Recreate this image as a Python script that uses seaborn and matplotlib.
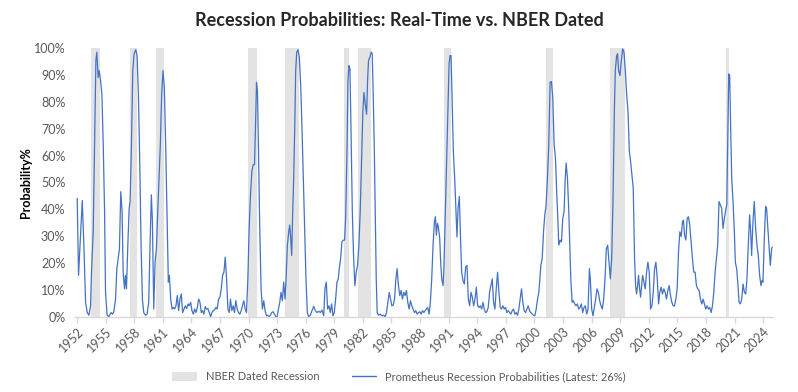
import matplotlib
matplotlib.use("Agg")
import matplotlib.pyplot as plt
import numpy as np
import pandas as pd
import seaborn as sns
from matplotlib.patches import Patch
from matplotlib.lines import Line2D
from matplotlib.ticker import PercentFormatter

# NBER dated recessions (fractional years)
rec_start = [1953.50, 1957.58, 1960.27, 1969.93, 1973.85, 1980.03, 1981.53, 1990.55, 2001.19, 2007.94, 2020.12]
rec_end = [1954.38, 1958.35, 1961.10, 1970.84, 1975.25, 1980.58, 1982.90, 1991.25, 2001.94, 2009.52, 2020.42]

# real-time recession probability (%)
years = [
    1952.03, 1952.17, 1952.56, 1952.73, 1952.91, 1953.08, 1953.26, 1953.43, 1953.53, 1953.71,
    1953.85, 1953.99, 1954.09, 1954.23, 1954.34, 1954.48, 1954.62, 1954.76, 1954.90, 1955.00,
    1955.17, 1955.35, 1955.59, 1955.73, 1955.87, 1956.05, 1956.19, 1956.33, 1956.46, 1956.60,
    1956.74, 1956.85, 1956.99, 1957.09, 1957.20, 1957.34, 1957.48, 1957.58, 1957.72, 1957.86,
    1958.00, 1958.17, 1958.31, 1958.45, 1958.59, 1958.73, 1958.87, 1959.01, 1959.19, 1959.36,
    1959.53, 1959.67, 1959.81, 1959.92, 1960.06, 1960.20, 1960.34, 1960.48, 1960.62, 1960.75,
    1960.89, 1961.03, 1961.17, 1961.31, 1961.45, 1961.59, 1961.70, 1961.84, 1961.98, 1962.12,
    1962.25, 1962.39, 1962.53, 1962.67, 1962.81, 1962.95, 1963.09, 1963.23, 1963.37, 1963.51,
    1963.65, 1963.79, 1963.93, 1964.07, 1964.21, 1964.35, 1964.49, 1964.63, 1964.77, 1964.91,
    1965.05, 1965.18, 1965.32, 1965.46, 1965.60, 1965.74, 1965.88, 1966.02, 1966.16, 1966.30,
    1966.44, 1966.58, 1966.72, 1966.86, 1967.00, 1967.14, 1967.28, 1967.42, 1967.56, 1967.70,
    1967.84, 1967.98, 1968.11, 1968.25, 1968.39, 1968.53, 1968.67, 1968.81, 1968.95, 1969.09,
    1969.23, 1969.37, 1969.51, 1969.65, 1969.79, 1969.93, 1970.07, 1970.21, 1970.35, 1970.49,
    1970.63, 1970.73, 1970.84, 1970.94, 1971.04, 1971.18, 1971.32, 1971.46, 1971.60, 1971.74,
    1971.88, 1972.02, 1972.16, 1972.30, 1972.44, 1972.58, 1972.72, 1972.86, 1973.00, 1973.14,
    1973.28, 1973.41, 1973.55, 1973.69, 1973.83, 1973.94, 1974.08, 1974.22, 1974.32, 1974.43,
    1974.53, 1974.64, 1974.74, 1974.85, 1974.95, 1975.06, 1975.20, 1975.33, 1975.47, 1975.61,
    1975.75, 1975.89, 1976.03, 1976.17, 1976.31, 1976.49, 1976.66, 1976.84, 1977.01, 1977.19,
    1977.36, 1977.54, 1977.71, 1977.89, 1978.02, 1978.16, 1978.30, 1978.44, 1978.58, 1978.72,
    1978.86, 1979.00, 1979.14, 1979.28, 1979.42, 1979.52, 1979.66, 1979.80, 1979.94, 1980.08,
    1980.19, 1980.33, 1980.43, 1980.54, 1980.64, 1980.75, 1980.89, 1981.02, 1981.16, 1981.30,
    1981.44, 1981.58, 1981.72, 1981.86, 1982.00, 1982.11, 1982.25, 1982.39, 1982.49, 1982.59,
    1982.73, 1982.87, 1982.98, 1983.08, 1983.19, 1983.29, 1983.40, 1983.50, 1983.64, 1983.82,
    1983.99, 1984.16, 1984.34, 1984.48, 1984.62, 1984.76, 1984.90, 1985.04, 1985.18, 1985.32,
    1985.46, 1985.59, 1985.73, 1985.87, 1986.01, 1986.15, 1986.29, 1986.43, 1986.57, 1986.71,
    1986.85, 1986.99, 1987.13, 1987.27, 1987.41, 1987.55, 1987.69, 1987.83, 1987.97, 1988.11,
    1988.25, 1988.39, 1988.52, 1988.66, 1988.80, 1988.94, 1989.08, 1989.22, 1989.36, 1989.50,
    1989.61, 1989.71, 1989.82, 1989.92, 1990.06, 1990.16, 1990.27, 1990.41, 1990.51, 1990.65,
    1990.79, 1990.93, 1991.04, 1991.14, 1991.25, 1991.35, 1991.49, 1991.63, 1991.77, 1991.87,
    1991.98, 1992.12, 1992.22, 1992.36, 1992.50, 1992.64, 1992.78, 1992.92, 1993.06, 1993.20,
    1993.34, 1993.48, 1993.62, 1993.76, 1993.90, 1994.04, 1994.18, 1994.32, 1994.46, 1994.60,
    1994.73, 1994.87, 1995.01, 1995.15, 1995.29, 1995.43, 1995.57, 1995.71, 1995.85, 1995.99,
    1996.13, 1996.27, 1996.41, 1996.55, 1996.69, 1996.83, 1996.97, 1997.11, 1997.25, 1997.39,
    1997.53, 1997.66, 1997.80, 1997.94, 1998.08, 1998.22, 1998.36, 1998.50, 1998.64, 1998.78,
    1998.92, 1999.06, 1999.20, 1999.34, 1999.48, 1999.62, 1999.76, 1999.90, 2000.04, 2000.18,
    2000.32, 2000.46, 2000.67, 2000.81, 2000.95, 2001.08, 2001.22, 2001.36, 2001.50, 2001.64,
    2001.78, 2001.92, 2002.06, 2002.20, 2002.34, 2002.45, 2002.55, 2002.69, 2002.83, 2002.97,
    2003.11, 2003.21, 2003.32, 2003.46, 2003.60, 2003.70, 2003.81, 2003.95, 2004.08, 2004.22,
    2004.36, 2004.50, 2004.64, 2004.78, 2004.92, 2005.06, 2005.20, 2005.34, 2005.48, 2005.62,
    2005.76, 2005.86, 2006.00, 2006.14, 2006.28, 2006.42, 2006.56, 2006.70, 2006.84, 2006.98,
    2007.12, 2007.26, 2007.40, 2007.54, 2007.68, 2007.82, 2007.96, 2008.10, 2008.24, 2008.38,
    2008.48, 2008.62, 2008.72, 2008.83, 2008.97, 2009.11, 2009.25, 2009.39, 2009.53, 2009.67,
    2009.81, 2009.95, 2010.08, 2010.22, 2010.36, 2010.43, 2010.50, 2010.61, 2010.71, 2010.82,
    2010.92, 2011.03, 2011.13, 2011.24, 2011.34, 2011.48, 2011.62, 2011.76, 2011.90, 2012.04,
    2012.18, 2012.32, 2012.46, 2012.60, 2012.74, 2012.88, 2013.02, 2013.15, 2013.29, 2013.43,
    2013.57, 2013.71, 2013.85, 2013.99, 2014.13, 2014.27, 2014.41, 2014.55, 2014.69, 2014.83,
    2014.97, 2015.11, 2015.25, 2015.39, 2015.53, 2015.63, 2015.74, 2015.88, 2016.02, 2016.15,
    2016.29, 2016.43, 2016.57, 2016.71, 2016.85, 2016.99, 2017.13, 2017.27, 2017.41, 2017.55,
    2017.69, 2017.83, 2017.97, 2018.11, 2018.25, 2018.39, 2018.53, 2018.67, 2018.81, 2018.95,
    2019.09, 2019.22, 2019.36, 2019.50, 2019.64, 2019.78, 2019.92, 2020.06, 2020.17, 2020.27,
    2020.38, 2020.48, 2020.58, 2020.69, 2020.83, 2020.97, 2021.07, 2021.21, 2021.35, 2021.46,
    2021.60, 2021.74, 2021.88, 2022.02, 2022.16, 2022.29, 2022.43, 2022.57, 2022.68, 2022.78,
    2022.92, 2023.06, 2023.20, 2023.34, 2023.48, 2023.62, 2023.76, 2023.87, 2023.97, 2024.11,
    2024.25, 2024.35, 2024.46, 2024.60, 2024.74, 2024.88, 2024.95,
]
prob = [
    44.1, 15.5, 43.3, 26.7, 5.5, 1.7, 0.7, 4.2, 16.7, 31.7,
    64.1, 95.3, 98.4, 89.0, 91.5, 87.8, 82.8, 64.1, 39.2, 9.2,
    0.7, 0.2, 1.7, 1.1, 2.0, 6.7, 18.0, 21.7, 25.4, 46.6,
    39.2, 16.7, 10.5, 15.5, 10.5, 26.7, 40.4, 42.9, 64.1, 91.5,
    97.8, 99.3, 97.1, 82.8, 57.9, 26.7, 6.7, 1.7, 0.7, 1.1,
    5.5, 26.7, 45.4, 35.4, 3.0, 20.4, 25.4, 39.2, 51.6, 64.1,
    82.8, 91.5, 85.3, 64.1, 39.2, 13.0, 15.5, 6.7, 3.0, 3.6,
    3.0, 4.2, 8.0, 2.4, 6.7, 8.6, 1.7, 3.0, 4.2, 3.2,
    4.9, 4.2, 5.5, 2.4, 1.1, 3.0, 1.7, 3.6, 6.7, 5.5,
    1.7, 2.4, 1.1, 3.9, 3.0, 3.2, 1.7, 0.2, 1.7, 2.4,
    2.7, 3.6, 3.0, 6.7, 7.4, 10.5, 15.5, 16.7, 22.3, 14.2,
    3.0, 1.7, 6.7, 2.4, 4.2, 1.7, 6.1, 3.0, 1.7, 1.1,
    2.4, 4.2, 6.1, 3.0, 1.7, 14.2, 32.9, 45.4, 54.1, 56.6,
    56.6, 70.3, 87.2, 84.0, 64.1, 32.9, 10.5, 3.0, 6.1, 2.4,
    0.5, 0.7, 0.2, 0.7, 1.7, 2.0, 1.1, 0.2, 0.2, 3.0,
    5.5, 9.2, 6.1, 13.0, 6.7, 14.2, 26.7, 31.7, 34.2, 29.2,
    22.9, 39.2, 51.6, 70.3, 91.5, 98.4, 99.3, 96.5, 86.5, 70.3,
    51.6, 32.9, 14.2, 1.7, 0.2, 0.7, 2.4, 4.0, 2.4, 1.7,
    2.2, 1.7, 2.6, 0.5, 10.5, 13.0, 3.0, 4.2, 1.7, 4.9,
    0.5, 1.7, 6.7, 13.0, 14.2, 18.0, 21.7, 27.9, 28.6, 28.6,
    36.7, 61.6, 87.8, 93.4, 92.1, 70.3, 39.2, 22.9, 11.7, 16.7,
    19.2, 26.7, 39.2, 57.9, 76.6, 83.4, 79.1, 75.3, 87.8, 95.3,
    96.5, 98.4, 97.8, 82.8, 64.1, 39.2, 14.2, 1.7, 0.7, 1.1,
    0.5, 0.7, 0.2, 1.7, 5.5, 9.2, 6.7, 4.2, 4.5, 6.7,
    14.2, 18.0, 11.7, 8.0, 9.9, 6.7, 9.2, 8.0, 9.9, 5.5,
    3.0, 6.1, 4.2, 3.0, 1.7, 2.4, 1.1, 1.7, 2.0, 1.1,
    2.4, 1.7, 2.4, 3.0, 3.6, 1.1, 5.5, 14.2, 26.7, 35.4,
    37.3, 30.4, 34.8, 33.5, 29.2, 20.4, 14.2, 11.7, 19.2, 39.2,
    57.9, 79.1, 94.0, 97.1, 97.1, 82.8, 61.6, 51.6, 39.2, 29.8,
    40.4, 44.8, 31.7, 16.7, 13.6, 12.3, 18.6, 19.2, 6.7, 4.2,
    9.2, 7.4, 4.2, 6.7, 11.1, 4.2, 3.6, 4.2, 3.0, 5.5,
    3.0, 1.7, 2.0, 3.6, 9.2, 11.7, 14.2, 5.5, 3.0, 10.5,
    16.7, 9.2, 3.6, 3.0, 4.2, 3.0, 3.6, 1.7, 2.4, 1.7,
    1.1, 2.4, 3.0, 1.1, 1.7, 0.7, 3.0, 6.7, 10.5, 5.5,
    2.4, 1.7, 3.0, 4.2, 2.4, 1.7, 1.1, 0.7, 0.5, 3.0,
    6.7, 9.2, 19.2, 21.7, 31.7, 37.9, 41.6, 51.6, 64.1, 87.2,
    87.5, 81.5, 64.1, 59.1, 45.4, 36.7, 26.7, 28.6, 27.9, 36.7,
    39.2, 50.4, 57.2, 51.6, 39.2, 26.7, 14.2, 5.5, 6.1, 4.9,
    4.2, 4.9, 3.0, 3.6, 4.9, 1.7, 3.6, 4.2, 1.1, 3.0,
    18.0, 14.2, 3.0, 0.5, 3.6, 6.7, 10.5, 9.2, 6.1, 4.2,
    3.0, 6.7, 14.2, 25.4, 26.7, 20.4, 14.2, 21.7, 44.1, 76.6,
    91.5, 97.1, 97.8, 91.5, 89.7, 95.3, 99.6, 98.4, 91.5, 82.8,
    76.6, 61.6, 57.9, 52.9, 47.9, 35.4, 21.7, 11.7, 8.6, 11.7,
    15.5, 10.5, 7.4, 11.7, 15.5, 13.0, 10.5, 16.7, 20.4, 16.7,
    3.0, 4.2, 9.2, 18.0, 20.4, 14.2, 4.9, 9.2, 11.1, 8.6,
    10.5, 9.2, 6.7, 9.9, 11.7, 8.0, 5.5, 4.2, 4.2, 6.7,
    10.5, 24.2, 31.7, 29.9, 35.4, 36.0, 30.5, 28.6, 36.7, 37.3,
    34.2, 27.9, 21.7, 16.7, 16.7, 11.7, 10.5, 9.9, 6.7, 4.9,
    6.7, 4.9, 3.0, 4.2, 3.0, 3.6, 1.7, 4.2, 9.2, 16.7,
    21.7, 26.7, 42.9, 41.6, 40.4, 32.9, 36.7, 39.8, 41.6, 64.1,
    90.3, 89.7, 70.3, 51.6, 42.9, 31.7, 20.4, 18.0, 11.7, 5.5,
    4.9, 6.7, 12.3, 9.2, 8.6, 14.2, 26.7, 38.0, 31.7, 22.9,
    35.4, 42.9, 32.9, 26.7, 22.9, 15.5, 11.7, 13.6, 13.0, 29.2,
    41.1, 40.4, 34.2, 26.7, 19.2, 25.4, 26.0,
]

tick_years = list(range(1952, 2025, 3))

df = pd.DataFrame({"year": years, "prob": prob})

sns.set_theme(style="white")
plt.rcParams['font.family'] = ['Lato', 'DejaVu Sans']

fig = plt.figure(figsize=(7.98, 3.92), dpi=100)
ax = fig.add_axes([0.094, 0.191, 0.875, 0.687])

for s, e in zip(rec_start, rec_end):
    ax.axvspan(s, e, ymin=0, ymax=1, color='#e3e3e3', lw=0, zorder=1)

sns.lineplot(data=df, x="year", y="prob", ax=ax, color='#4472C4', linewidth=0.9, zorder=3)

ax.set_xlim(1951.8, 2025.05)
ax.set_ylim(0, 100)
ax.set_yticks(range(0, 101, 10))
ax.yaxis.set_major_formatter(PercentFormatter(decimals=0))
ax.set_xticks(tick_years)
ax.set_xticklabels([str(y) for y in tick_years], rotation=45, ha='right', rotation_mode='anchor')

for sp in ['left', 'right', 'top']:
    ax.spines[sp].set_visible(False)
ax.spines['bottom'].set_color('#d9d9d9')
ax.spines['bottom'].set_linewidth(1.0)

ax.tick_params(axis='x', colors='#595959', labelsize=9, length=4, width=1, color='#d9d9d9', direction='out', pad=2)
ax.tick_params(axis='y', colors='#595959', labelsize=9, length=0, pad=7)
ax.xaxis.set_ticks_position('bottom')

ax.set_xlabel("")
ax.set_ylabel("Probability%", fontsize=9, fontweight='bold', color='black', labelpad=1)

fig.suptitle("Recession Probabilities: Real-Time vs. NBER Dated", x=0.5, y=0.97,
             fontsize=13, fontweight='bold')

handles = [Patch(facecolor='#e3e3e3', edgecolor='none'),
           Line2D([0], [0], color='#4472C4', lw=1.0)]
labels = ["NBER Dated Recession", "Prometheus Recession Probabilities (Latest: 26%)"]
fig.legend(handles, labels, loc='lower center', bbox_to_anchor=(0.5, 0.0), ncol=2, frameon=False,
           fontsize=8, labelcolor='#595959', handlelength=2.2, handleheight=0.9, columnspacing=2.9)

fig.savefig("out.png", dpi=100)
